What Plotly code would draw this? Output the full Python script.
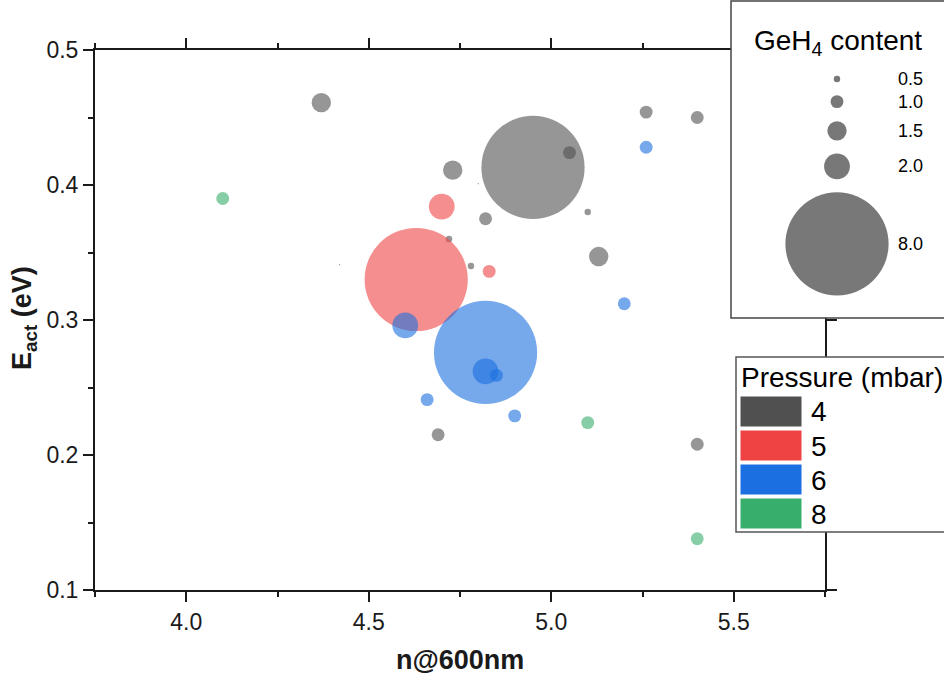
import plotly.graph_objects as go

# ---- data: refractive index at 600 nm, activation energy, GeH4 content ----
n_4mbar = [4.37, 4.73, 4.82, 4.95, 5.05, 5.10, 5.13, 4.72, 4.78, 4.69, 5.26, 5.40, 5.40, 4.42, 4.80]
e_4mbar = [0.461, 0.411, 0.375, 0.413, 0.424, 0.380, 0.347, 0.360, 0.340, 0.215, 0.454, 0.450, 0.208, 0.341, 0.401]
c_4mbar = [1.5, 1.5, 1.0, 8.0, 1.0, 0.5, 1.5, 0.5, 0.5, 1.0, 1.0, 1.0, 1.0, 0.1, 0.1]

n_5mbar = [4.63, 4.70, 4.83]
e_5mbar = [0.330, 0.384, 0.336]
c_5mbar = [8.0, 2.0, 1.0]

n_6mbar = [4.82, 4.60, 4.82, 4.85, 4.66, 4.90, 5.20, 5.26]
e_6mbar = [0.276, 0.296, 0.262, 0.259, 0.241, 0.229, 0.312, 0.428]
c_6mbar = [8.0, 2.0, 2.0, 1.0, 1.0, 1.0, 1.0, 1.0]

n_8mbar = [4.10, 5.10, 5.40]
e_8mbar = [0.390, 0.224, 0.138]
c_8mbar = [1.0, 1.0, 1.0]

pressures = ["4", "5", "6", "8"]
pressure_colors = ["#505050", "#ef4343", "#1b6fe0", "#37ae6b"]
size_legend_values = [0.5, 1.0, 1.5, 2.0, 8.0]
size_legend_labels = ["0.5", "1.0", "1.5", "2.0", "8.0"]

# ---- layout constants (pixels) ----
W, H = 944, 679
PX_PER_UNIT = 12.9          # bubble diameter in px per unit of GeH4 content
FONT = "Liberation Sans, Arial, sans-serif"
INK = "#1a1a1a"


def fx(px):
    return px / W


def fy(py):
    return 1 - py / H


def label(text, px, py, size, xanchor="center", yanchor="middle", angle=0, color="black"):
    return dict(text=text, x=fx(px), y=fy(py), xref="paper", yref="paper",
                xanchor=xanchor, yanchor=yanchor, showarrow=False, textangle=angle,
                font=dict(family=FONT, size=size, color=color))


fig = go.Figure()

series = [
    (n_4mbar, e_4mbar, c_4mbar),
    (n_5mbar, e_5mbar, c_5mbar),
    (n_6mbar, e_6mbar, c_6mbar),
    (n_8mbar, e_8mbar, c_8mbar),
]
for (xs, ys, cs), p, col in zip(series, pressures, pressure_colors):
    fig.add_trace(go.Scatter(
        x=xs, y=ys, mode="markers", name=p + " mbar",
        marker=dict(size=cs, sizemode="diameter", sizeref=1 / PX_PER_UNIT,
                    color=col, opacity=0.6, line=dict(width=0)),
        cliponaxis=False, showlegend=False,
    ))

axis_common = dict(
    showline=True, linecolor=INK, linewidth=2, mirror="ticks",
    ticks="outside", ticklen=10, tickwidth=2, tickcolor=INK,
    showgrid=False, zeroline=False, tickformat=".1f", automargin=False,
    tickfont=dict(family=FONT, size=23, color=INK),
)

fig.update_layout(
    width=W, height=H,
    margin=dict(l=0, r=0, t=0, b=0, pad=0, autoexpand=False),
    paper_bgcolor="white", plot_bgcolor="white",
    xaxis=dict(domain=[fx(95), fx(825)], range=[3.75, 5.75],
               tick0=4.0, dtick=0.5,
               minor=dict(tick0=3.75, dtick=0.25, ticks="outside", ticklen=5,
                          tickwidth=2, tickcolor=INK),
               **axis_common),
    yaxis=dict(domain=[fy(590), fy(50)], range=[0.1, 0.5],
               tick0=0.1, dtick=0.1,
               minor=dict(tick0=0.1, dtick=0.05, ticks="outside", ticklen=5,
                          tickwidth=2, tickcolor=INK),
               **axis_common),
    showlegend=False,
)

shapes = []
annotations = []

# axis titles
annotations.append(label("<b>E<sub>act</sub> (eV)</b>", 24, 318, 27, angle=-90, color=INK))
annotations.append(label("<b>n@600nm</b>", 460, 660, 27, color=INK))

# ---- size legend (GeH4 content) ----
shapes.append(dict(type="rect", xref="paper", yref="paper",
                   x0=fx(731), x1=fx(960), y0=fy(318), y1=fy(1),
                   line=dict(color="#444444", width=1.5), fillcolor="white",
                   layer="above"))
annotations.append(label("GeH<sub>4</sub> content", 838, 42, 28))
cy = 79.0
prev_r = None
for v, lab in zip(size_legend_values, size_legend_labels):
    r = v * PX_PER_UNIT / 2
    if prev_r is not None:
        cy += prev_r + r + 13
    shapes.append(dict(type="circle", xref="paper", yref="paper",
                       xsizemode="pixel", ysizemode="pixel",
                       xanchor=fx(837), yanchor=fy(cy),
                       x0=-r, x1=r, y0=-r, y1=r,
                       fillcolor="#787878", line=dict(width=0), layer="above"))
    annotations.append(label(lab, 896, cy, 18, xanchor="left"))
    prev_r = r

# ---- colour legend (pressure) ----
shapes.append(dict(type="rect", xref="paper", yref="paper",
                   x0=fx(736), x1=fx(960), y0=fy(532), y1=fy(357),
                   line=dict(color="#555555", width=1.5), fillcolor="white",
                   layer="above"))
annotations.append(label("Pressure (mbar)", 739, 377, 28, xanchor="left"))
for i, (p, col) in enumerate(zip(pressures, pressure_colors)):
    top = 396 + i * 34
    shapes.append(dict(type="rect", xref="paper", yref="paper",
                       x0=fx(740), x1=fx(802), y0=fy(top + 31), y1=fy(top),
                       fillcolor=col, line=dict(color="white", width=1),
                       layer="above"))
    annotations.append(label(p, 809, top + 16, 28, xanchor="left"))

fig.update_layout(shapes=shapes, annotations=annotations)
fig.write_html("out.html")
